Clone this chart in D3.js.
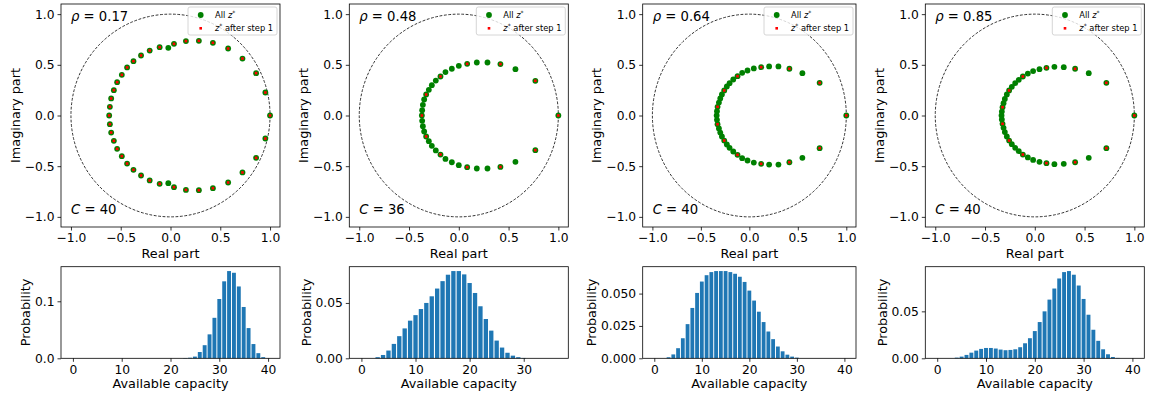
<!DOCTYPE html>
<html><head><meta charset="utf-8">
<script src="https://cdn.jsdelivr.net/npm/d3@7"></script>
<style>
body{margin:0;background:#fff}
svg{display:block}
text{font-family:"DejaVu Sans",sans-serif;fill:#000}
</style>
</head><body>
<svg id="c" width="1151" height="400"></svg>
<script>
// ---------------- DATA ----------------
const rhoLabels = ["0.17", "0.48", "0.64", "0.85"];
const capacityLabels = ["40", "36", "40", "40"];
const complexTicks = [-1.0, -0.5, 0.0, 0.5, 1.0];

// all z* (green): [real, imag]
const zAll1 = [[1.000,0.000],[0.953,0.227],[0.860,0.418],[0.723,0.562],[0.579,0.661],[0.426,0.717],[0.285,0.737],[0.155,0.734],[0.035,0.707],[-0.022,0.668],[-0.109,0.674],[-0.209,0.641],[-0.296,0.592],[-0.372,0.536],[-0.436,0.474],[-0.489,0.401],[-0.536,0.329],[-0.569,0.250],[-0.596,0.168],[-0.609,0.086],[-0.616,0.000],
  [0.953,-0.227],[0.860,-0.418],[0.723,-0.562],[0.579,-0.661],[0.426,-0.717],[0.285,-0.737],[0.155,-0.734],[0.035,-0.707],[-0.022,-0.668],[-0.109,-0.674],[-0.209,-0.641],[-0.296,-0.592],[-0.372,-0.536],[-0.436,-0.474],[-0.489,-0.401],[-0.536,-0.329],[-0.569,-0.250],[-0.596,-0.168],[-0.609,-0.086]];
const zStep1_1 = [[1.000,0.000],[0.953,0.227],[0.860,0.418],[0.723,0.562],[0.579,0.661],[0.426,0.717],[0.285,0.737],[0.155,0.734],[0.035,0.707],[-0.109,0.674],[-0.209,0.641],[-0.296,0.592],[-0.372,0.536],[-0.436,0.474],[-0.489,0.401],[-0.536,0.329],[-0.569,0.250],[-0.596,0.168],[-0.609,0.086],[-0.616,0.000],
  [0.953,-0.227],[0.860,-0.418],[0.723,-0.562],[0.579,-0.661],[0.426,-0.717],[0.285,-0.737],[0.155,-0.734],[0.035,-0.707],[-0.109,-0.674],[-0.209,-0.641],[-0.296,-0.592],[-0.372,-0.536],[-0.436,-0.474],[-0.489,-0.401],[-0.536,-0.329],[-0.569,-0.250],[-0.596,-0.168],[-0.609,-0.086]];

const zAll2 = [[1.000,0.000],[0.769,0.342],[0.569,0.457],[0.418,0.507],[0.288,0.523],[0.181,0.523],[0.084,0.510],[0.000,0.490],[-0.070,0.461],[-0.134,0.428],[-0.184,0.385],[-0.231,0.345],[-0.271,0.299],[-0.301,0.253],[-0.328,0.207],[-0.348,0.158],[-0.361,0.105],[-0.368,0.053],[-0.371,0.000],
  [0.769,-0.342],[0.569,-0.457],[0.418,-0.507],[0.288,-0.523],[0.181,-0.523],[0.084,-0.510],[0.000,-0.490],[-0.070,-0.461],[-0.134,-0.428],[-0.184,-0.385],[-0.231,-0.345],[-0.271,-0.299],[-0.301,-0.253],[-0.328,-0.207],[-0.348,-0.158],[-0.361,-0.105],[-0.368,-0.053]];
const zStep1_2 = [[1.000,0.000],[0.769,0.342],[0.418,0.507],[0.084,0.510],[-0.184,0.385],[-0.328,0.207],[-0.371,0.000],
  [0.769,-0.342],[0.418,-0.507],[0.084,-0.510],[-0.184,-0.385],[-0.328,-0.207]];

const zAll3 = [[1.000,0.000],[0.725,0.322],[0.547,0.418],[0.413,0.461],[0.300,0.484],[0.204,0.484],[0.122,0.477],[0.046,0.464],[-0.019,0.444],[-0.074,0.421],[-0.122,0.388],[-0.166,0.355],[-0.204,0.319],[-0.232,0.286],[-0.259,0.247],[-0.283,0.207],[-0.300,0.168],[-0.314,0.128],[-0.328,0.086],[-0.334,0.043],[-0.337,0.000],
  [0.725,-0.322],[0.547,-0.418],[0.413,-0.461],[0.300,-0.484],[0.204,-0.484],[0.122,-0.477],[0.046,-0.464],[-0.019,-0.444],[-0.074,-0.421],[-0.122,-0.388],[-0.166,-0.355],[-0.204,-0.319],[-0.232,-0.286],[-0.259,-0.247],[-0.283,-0.207],[-0.300,-0.168],[-0.314,-0.128],[-0.328,-0.086],[-0.334,-0.043]];
const zStep1_3 = [[1.000,0.000],[0.725,0.322],[0.413,0.461],[0.122,0.477],[-0.122,0.388],[-0.259,0.247],[-0.328,0.086],
  [0.725,-0.322],[0.413,-0.461],[0.122,-0.477],[-0.122,-0.388],[-0.259,-0.247],[-0.328,-0.086]];

const zAll4 = [[1.000,0.000],[0.719,0.322],[0.542,0.418],[0.405,0.461],[0.291,0.477],[0.197,0.480],[0.117,0.470],[0.047,0.457],[-0.017,0.438],[-0.070,0.414],[-0.120,0.385],[-0.161,0.352],[-0.197,0.319],[-0.231,0.283],[-0.258,0.247],[-0.281,0.207],[-0.301,0.164],[-0.314,0.122],[-0.324,0.082],[-0.331,0.039],[-0.334,0.000],
  [0.719,-0.322],[0.542,-0.418],[0.405,-0.461],[0.291,-0.477],[0.197,-0.480],[0.117,-0.470],[0.047,-0.457],[-0.017,-0.438],[-0.070,-0.414],[-0.120,-0.385],[-0.161,-0.352],[-0.197,-0.319],[-0.231,-0.283],[-0.258,-0.247],[-0.281,-0.207],[-0.301,-0.164],[-0.314,-0.122],[-0.324,-0.082],[-0.331,-0.039]];
const zStep1_4 = [[1.000,0.000],[0.719,0.322],[0.405,0.461],[0.117,0.470],[-0.120,0.385],[-0.258,0.247],[-0.324,0.082],
  [0.719,-0.322],[0.405,-0.461],[0.117,-0.470],[-0.120,-0.385],[-0.258,-0.247],[-0.324,-0.082]];

// probability of available capacity 0..C
const prob1 = [0,0,0,0,0,0,0,0,0,0,0,0,0,0,0,0,0,0,0,0,0,0,0,0.0005,0.001,0.003,0.011,0.023,0.042,0.071,0.104,0.135,0.153,0.150,0.126,0.090,0.053,0.025,0.009,0.002,0.0003];
const prob2 = [0,0,0,0.001,0.003,0.007,0.013,0.020,0.027,0.034,0.039,0.0445,0.050,0.056,0.063,0.0697,0.0755,0.0788,0.0788,0.0758,0.068,0.059,0.047,0.0355,0.025,0.016,0.0097,0.005,0.0024,0.001,0.0003,0,0,0,0,0,0];
const prob3 = [0,0,0,0.0008,0.003,0.0078,0.0155,0.0264,0.0389,0.0505,0.0593,0.0642,0.0666,0.0674,0.0674,0.0674,0.0666,0.0653,0.063,0.059,0.0523,0.0446,0.036,0.028,0.0207,0.0148,0.0091,0.0054,0.0028,0.0013,0.0005,0,0,0,0,0,0,0,0,0,0];
const prob4 = [0,0,0,0,0.0007,0.0018,0.0036,0.006,0.0082,0.010,0.011,0.011,0.0104,0.0093,0.0086,0.0089,0.0096,0.0118,0.016,0.0214,0.029,0.0386,0.050,0.0625,0.0743,0.085,0.0918,0.0929,0.089,0.0775,0.0632,0.0464,0.0304,0.0186,0.0096,0.0043,0.0014,0.0004,0,0,0];

const capTicks1 = [0,10,20,30,40];
const capTicks2 = [0,10,20,30];
const probTicks1 = [0.0, 0.1];
const probTicks2 = [0.00, 0.05];
const probTicks3 = [0.000, 0.025, 0.050];
const probTicks4 = [0.00, 0.05];
const probTickLabels1 = ["0.0", "0.1"];
const probTickLabels2 = ["0.00", "0.05"];
const probTickLabels3 = ["0.000", "0.025", "0.050"];
const probTickLabels4 = ["0.00", "0.05"];

// ---------------- LAYOUT ----------------
const svg = d3.select("#c");
svg.append("rect").attr("width", 1151).attr("height", 400).attr("fill", "#fff");

const panelLeft = [61, 349.3, 642.7, 925.3];
const panelRight = [280, 568.3, 856, 1144.3];
const topTop = 4, topBottom = 227;
const botTop = 266.7, botBottom = 358.3;
const TICK_FS = 12.3, LABEL_FS = 12.8;

const allSets = [zAll1, zAll2, zAll3, zAll4];
const step1Sets = [zStep1_1, zStep1_2, zStep1_3, zStep1_4];
const probSets = [prob1, prob2, prob3, prob4];
const capTickSets = [capTicks1, capTicks2, capTicks1, capTicks1];
const probTickSets = [probTicks1, probTicks2, probTicks3, probTicks4];
const probTickLabelSets = [probTickLabels1, probTickLabels2, probTickLabels3, probTickLabels4];

function styleAxis(g) {
  g.select(".domain").remove();
  g.selectAll(".tick line").attr("stroke", "#000").attr("stroke-width", 0.8);
  g.selectAll(".tick text").attr("font-size", TICK_FS).attr("font-family", "DejaVu Sans").attr("fill", "#000");
}

function yLabel(g, text, axisG, left, cy, gap) {
  let minX = Infinity;
  axisG.selectAll(".tick text").each(function () {
    const b = this.getBBox();
    minX = Math.min(minX, b.x);
  });
  const bx = left + minX - gap;
  g.append("text").attr("transform", `translate(${bx},${cy}) rotate(-90)`)
    .attr("text-anchor", "middle").attr("font-size", LABEL_FS).text(text);
}

for (let p = 0; p < 4; p++) {
  const L = panelLeft[p], R = panelRight[p];
  // ---------- top: complex plane ----------
  const g = svg.append("g");
  const x = d3.scaleLinear().domain([-1.1, 1.1]).range([L, R]);
  const y = d3.scaleLinear().domain([-1.1, 1.1]).range([topBottom, topTop]);

  g.append("ellipse").attr("cx", x(0)).attr("cy", y(0))
    .attr("rx", x(1) - x(0)).attr("ry", y(0) - y(1))
    .attr("fill", "none").attr("stroke", "#000").attr("stroke-width", 0.8)
    .attr("stroke-dasharray", "2.8,1.6");

  g.selectAll("circle.all").data(allSets[p]).join("circle").attr("class", "all")
    .attr("cx", d => x(d[0])).attr("cy", d => y(d[1])).attr("r", 2.9).attr("fill", "#008000");
  g.selectAll("rect.s1").data(step1Sets[p]).join("rect").attr("class", "s1")
    .attr("x", d => x(d[0]) - 1.3).attr("y", d => y(d[1]) - 1.3).attr("width", 2.6).attr("height", 2.6)
    .attr("fill", "#ff0000");

  const xa = g.append("g").attr("transform", `translate(0,${topBottom})`)
    .call(d3.axisBottom(x).tickValues(complexTicks).tickSize(3.5).tickPadding(3).tickFormat(d3.format(".1f")));
  styleAxis(xa);
  const ya = g.append("g").attr("transform", `translate(${L},0)`)
    .call(d3.axisLeft(y).tickValues(complexTicks).tickSize(3.5).tickPadding(3).tickFormat(d3.format(".1f")));
  styleAxis(ya);

  g.append("rect").attr("x", L).attr("y", topTop).attr("width", R - L).attr("height", topBottom - topTop)
    .attr("fill", "none").attr("stroke", "#000").attr("stroke-width", 0.8);

  g.append("text").attr("x", (L + R) / 2).attr("y", 257.5).attr("text-anchor", "middle")
    .attr("font-size", LABEL_FS).text("Real part");
  yLabel(g, "Imaginary part", ya, L, (topTop + topBottom) / 2, 5);

  // annotations
  const t1 = g.append("text").attr("x", L + 10).attr("y", topTop + 17).attr("font-size", 13.2);
  t1.append("tspan").attr("font-style", "italic").text("ρ");
  t1.append("tspan").text(" = " + rhoLabels[p]);
  const t2 = g.append("text").attr("x", L + 10).attr("y", topBottom - 13.5).attr("font-size", 13.2);
  t2.append("tspan").attr("font-style", "italic").text("C");
  t2.append("tspan").text(" = " + capacityLabels[p]);

  // legend
  const lw = 89, lh = 28, lx = R - 3 - lw, ly = topTop + 3;
  const lg = g.append("g");
  lg.append("rect").attr("x", lx).attr("y", ly).attr("width", lw).attr("height", lh).attr("rx", 2)
    .attr("fill", "#fff").attr("fill-opacity", 0.8).attr("stroke", "#ccc").attr("stroke-width", 0.8);
  lg.append("circle").attr("cx", lx + 12.7).attr("cy", ly + 8).attr("r", 2.9).attr("fill", "#008000");
  lg.append("rect").attr("x", lx + 12.7 - 1.3).attr("y", ly + 21.3 - 1.3).attr("width", 2.6).attr("height", 2.6).attr("fill", "#ff0000");
  const lt1 = lg.append("text").attr("x", lx + 27).attr("y", ly + 10.8).attr("font-size", 8.3);
  lt1.append("tspan").text("All ");
  lt1.append("tspan").attr("font-style", "italic").text("z");
  lt1.append("tspan").attr("dy", -3.2).attr("font-size", 6).text("*");
  const lt2 = lg.append("text").attr("x", lx + 27).attr("y", ly + 24.2).attr("font-size", 8.3);
  lt2.append("tspan").attr("font-style", "italic").text("z");
  lt2.append("tspan").attr("dy", -3.2).attr("font-size", 6).text("*");
  lt2.append("tspan").attr("dy", 3.2).text(" after step 1");

  // ---------- bottom: histogram ----------
  const gb = svg.append("g");
  const probs = probSets[p];
  const C = probs.length - 1;
  const pad = 0.05 * (C + 0.8);
  const xb = d3.scaleLinear().domain([-0.4 - pad, C + 0.4 + pad]).range([L, R]);
  const ymax = d3.max(probs) * 1.05;
  const yb = d3.scaleLinear().domain([0, ymax]).range([botBottom, botTop]);

  gb.selectAll("rect.bar").data(probs.map((v, i) => ({ i, v })).filter(d => d.v > 0)).join("rect")
    .attr("class", "bar")
    .attr("x", d => xb(d.i - 0.4)).attr("width", d => xb(d.i + 0.4) - xb(d.i - 0.4))
    .attr("y", d => yb(d.v)).attr("height", d => yb(0) - yb(d.v))
    .attr("fill", "#1f77b4");

  const xba = gb.append("g").attr("transform", `translate(0,${botBottom})`)
    .call(d3.axisBottom(xb).tickValues(capTickSets[p]).tickSize(3.5).tickPadding(3).tickFormat(d3.format("d")));
  styleAxis(xba);
  const labels = probTickLabelSets[p];
  const yba = gb.append("g").attr("transform", `translate(${L},0)`)
    .call(d3.axisLeft(yb).tickValues(probTickSets[p]).tickSize(3.5).tickPadding(3).tickFormat((d, i) => labels[i]));
  styleAxis(yba);

  gb.append("rect").attr("x", L).attr("y", botTop).attr("width", R - L).attr("height", botBottom - botTop)
    .attr("fill", "none").attr("stroke", "#000").attr("stroke-width", 0.8);

  gb.append("text").attr("x", (L + R) / 2).attr("y", 388).attr("text-anchor", "middle")
    .attr("font-size", LABEL_FS).text("Available capacity");
  yLabel(gb, "Probability", yba, L, (botTop + botBottom) / 2, 4.5);
}
</script>
</body></html>
